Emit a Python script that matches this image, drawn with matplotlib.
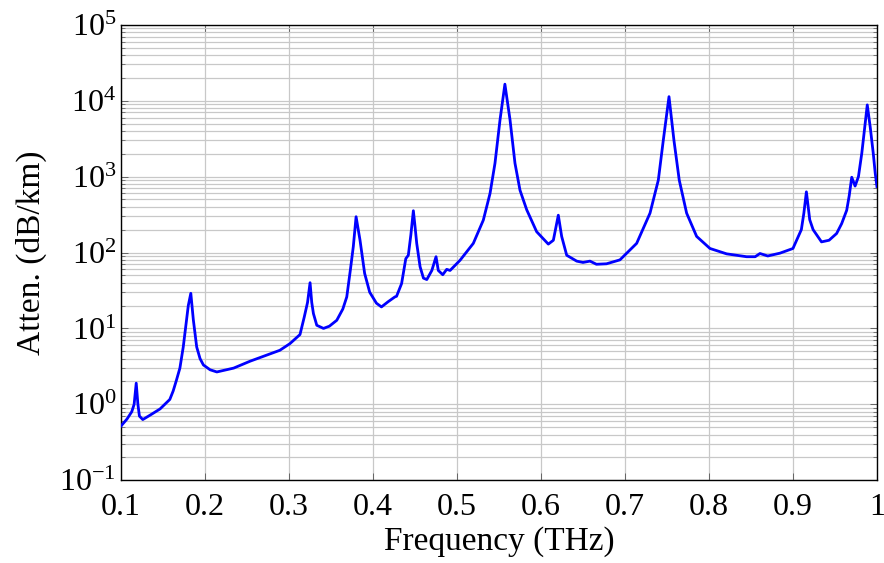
import numpy as np
import matplotlib
matplotlib.use("Agg")
import matplotlib.pyplot as plt
from matplotlib.ticker import LogLocator, NullFormatter

# values (frequency in THz, attenuation in dB/km)
freq = [0.100, 0.107, 0.1127, 0.1155, 0.118, 0.120, 0.1218, 0.1258, 0.1345,
        0.1464, 0.152, 0.158, 0.162, 0.166, 0.170, 0.174, 0.178, 0.180,
        0.183, 0.186, 0.190, 0.194, 0.198, 0.206, 0.214, 0.234, 0.2536,
        0.289, 0.301, 0.313, 0.318, 0.322, 0.325, 0.327, 0.329, 0.333,
        0.341, 0.348, 0.3568, 0.364, 0.3687, 0.373, 0.3765, 0.3798, 0.3845,
        0.390, 0.396, 0.404, 0.410, 0.418, 0.426, 0.428, 0.434, 0.439,
        0.442, 0.445, 0.448, 0.450, 0.452, 0.456, 0.460, 0.464, 0.470,
        0.475, 0.4777, 0.483, 0.4877, 0.4917, 0.5036, 0.5194, 0.5313, 0.5393,
        0.5452, 0.5512, 0.557, 0.5631, 0.569, 0.575, 0.583, 0.5948, 0.6087,
        0.6147, 0.6206, 0.6246, 0.6306, 0.6425, 0.650, 0.6583, 0.666, 0.678,
        0.694, 0.7139, 0.7298, 0.7397, 0.7456, 0.7524, 0.7583, 0.7646, 0.7734,
        0.7853, 0.8012, 0.821, 0.8448, 0.855, 0.8607, 0.870, 0.8845, 0.900,
        0.910, 0.913, 0.916, 0.920, 0.924, 0.934, 0.943, 0.952, 0.958,
        0.964, 0.967, 0.970, 0.974, 0.978, 0.982, 0.985, 0.9885, 0.992,
        0.9956, 0.998, 1.000]
atten = [0.52, 0.64, 0.80, 1.0, 1.9, 1.0, 0.70, 0.63, 0.72,
         0.87, 1.0, 1.16, 1.5, 2.1, 3.0, 5.7, 13, 20,
         29, 13, 5.7, 4.0, 3.3, 2.85, 2.67, 3.0, 3.7,
         5.15, 6.3, 8.3, 14, 22, 40, 22, 15.7, 11,
         10, 10.7, 12.8, 18, 26, 59, 120, 296, 145,
         53, 30, 21.5, 19.2, 22.5, 26, 26.5, 39, 83,
         92, 170, 355, 220, 132, 65, 46, 44, 58,
         88, 58, 51, 60, 58, 79, 132, 267, 600,
         1500, 5600, 16500, 5600, 1500, 660, 365, 188, 129,
         145, 310, 163, 92, 77, 74, 77, 70, 71,
         80, 132, 330, 900, 3000, 11300, 3000, 900, 330,
         163, 113, 96, 88, 88, 97, 90, 98, 113,
         200, 330, 630, 270, 200, 138, 145, 178, 240,
         360, 560, 980, 750, 1000, 2040, 4000, 8800, 4500,
         2040, 1100, 740]

plt.rcParams['font.family'] = ['Liberation Serif', 'DejaVu Serif']
plt.rcParams['mathtext.fontset'] = 'custom'
plt.rcParams['mathtext.rm'] = 'Liberation Serif'
plt.rcParams['mathtext.it'] = 'Liberation Serif:italic'

fig = plt.figure(figsize=(8.84, 5.63), dpi=100)
ax = fig.add_axes([0.137, 0.147, 0.855, 0.809])

ax.semilogy(freq, atten, color='#0000ff', lw=2.0, zorder=3)

ax.set_xlim(0.1, 1.0)
ax.set_ylim(1e-1, 1e5)
ax.set_xticks(np.arange(0.1, 1.01, 0.1))
ax.set_xticklabels(['0.1', '0.2', '0.3', '0.4', '0.5', '0.6', '0.7', '0.8', '0.9', '1'])
ax.yaxis.set_major_locator(LogLocator(base=10, numticks=10))
ax.yaxis.set_minor_locator(LogLocator(base=10, subs=np.arange(2, 10), numticks=100))
ax.yaxis.set_minor_formatter(NullFormatter())

ax.grid(True, which='major', color='#c8c8c8', lw=0.9)
ax.grid(True, which='minor', axis='y', color='#c8c8c8', lw=0.9)

ax.tick_params(which='both', direction='in', top=True, right=True,
               labelsize=23, color='#555555')
ax.tick_params(which='major', length=5, width=0.6)
ax.tick_params(which='minor', length=3, width=0.5)
ax.tick_params(axis='x', pad=9)
for s in ax.spines.values():
    s.set_linewidth(1.0)

ax.set_xlabel('Frequency (THz)', fontsize=24, labelpad=3)
ax.set_ylabel('Atten. (dB/km)', fontsize=24, labelpad=9)

fig.savefig('out.png', dpi=100)
